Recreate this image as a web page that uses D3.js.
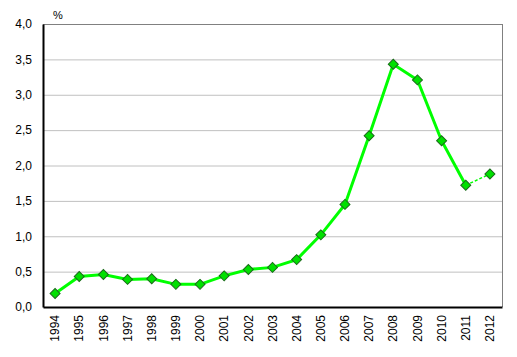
<!DOCTYPE html>
<html><head><meta charset="utf-8">
<script src="https://cdn.jsdelivr.net/npm/d3@7"></script>
<style>body{margin:0;background:#fff}svg{display:block}</style>
</head><body>
<script>
const years = ["1994","1995","1996","1997","1998","1999","2000","2001","2002","2003","2004","2005","2006","2007","2008","2009","2010","2011","2012"];
const values = [0.19,0.43,0.46,0.39,0.40,0.32,0.32,0.44,0.53,0.56,0.67,1.02,1.45,2.42,3.43,3.21,2.35,1.72,1.88];
const yTicks = [0,0.5,1,1.5,2,2.5,3,3.5,4];
const unitLabel = "%";

const W=517,H=357, L=43, R=502, T=24, B=307;
const svg=d3.select("body").append("svg").attr("width",W).attr("height",H);
const x=d3.scaleBand().domain(years).range([L,R]);
const y=d3.scaleLinear().domain([0,4]).range([B,T]);
const font="Liberation Sans, Arial, sans-serif";

// gridlines
svg.append("g").selectAll("line").data(yTicks.filter(d=>d>0&&d<4)).join("line")
  .attr("x1",L).attr("x2",R).attr("y1",d=>y(d)+0.5).attr("y2",d=>y(d)+0.5)
  .attr("stroke","#c0c0c0").attr("stroke-width",1);
// top and right border
svg.append("line").attr("x1",L).attr("x2",R).attr("y1",T+0.5).attr("y2",T+0.5).attr("stroke","#808080");
svg.append("line").attr("x1",R+0.5).attr("x2",R+0.5).attr("y1",T).attr("y2",B).attr("stroke","#808080");

// y axis
const ya=svg.append("g").attr("transform",`translate(${L},0)`)
  .call(d3.axisLeft(y).tickValues(yTicks).tickSize(0).tickPadding(11).tickFormat(d=>d3.format(".1f")(d).replace(".",",")));
ya.select(".domain").attr("stroke","#000").attr("stroke-width",2);
ya.selectAll("text").attr("font-family",font).attr("font-size",12).attr("fill","#000");

// x axis
const xa=svg.append("g").attr("transform",`translate(0,${B})`)
  .call(d3.axisBottom(x).tickSize(0).tickSizeOuter(0));
xa.select(".domain").attr("stroke","#000").attr("stroke-width",2);
xa.selectAll("text").attr("font-family",font).attr("font-size",12).attr("fill","#000")
  .attr("transform","rotate(-90)").attr("text-anchor","end").attr("x",-8).attr("y",0).attr("dy","0.35em");

// unit
svg.append("text").attr("x",53).attr("y",19).attr("font-family",font).attr("font-size",11).text(unitLabel);

const cx=d=>x(d)+x.bandwidth()/2;
const pts=years.map((d,i)=>({year:d,v:values[i]}));
const line=d3.line().x(d=>cx(d.year)).y(d=>y(d.v));
svg.append("path").datum(pts.slice(0,pts.length-1)).attr("d",line)
  .attr("fill","none").attr("stroke","#00ff00").attr("stroke-width",3);
svg.append("path").datum(pts.slice(pts.length-2)).attr("d",line)
  .attr("fill","none").attr("stroke","#00ff00").attr("stroke-width",1.5).attr("stroke-dasharray","3,2");

svg.append("g").selectAll("path").data(pts).join("path")
  .attr("d",d3.symbol(d3.symbolSquare,50))
  .attr("transform",d=>`translate(${cx(d.year)},${y(d.v)}) rotate(45)`)
  .attr("fill","#00e000").attr("stroke","#1a6a1a").attr("stroke-width",1);
</script>
</body></html>
